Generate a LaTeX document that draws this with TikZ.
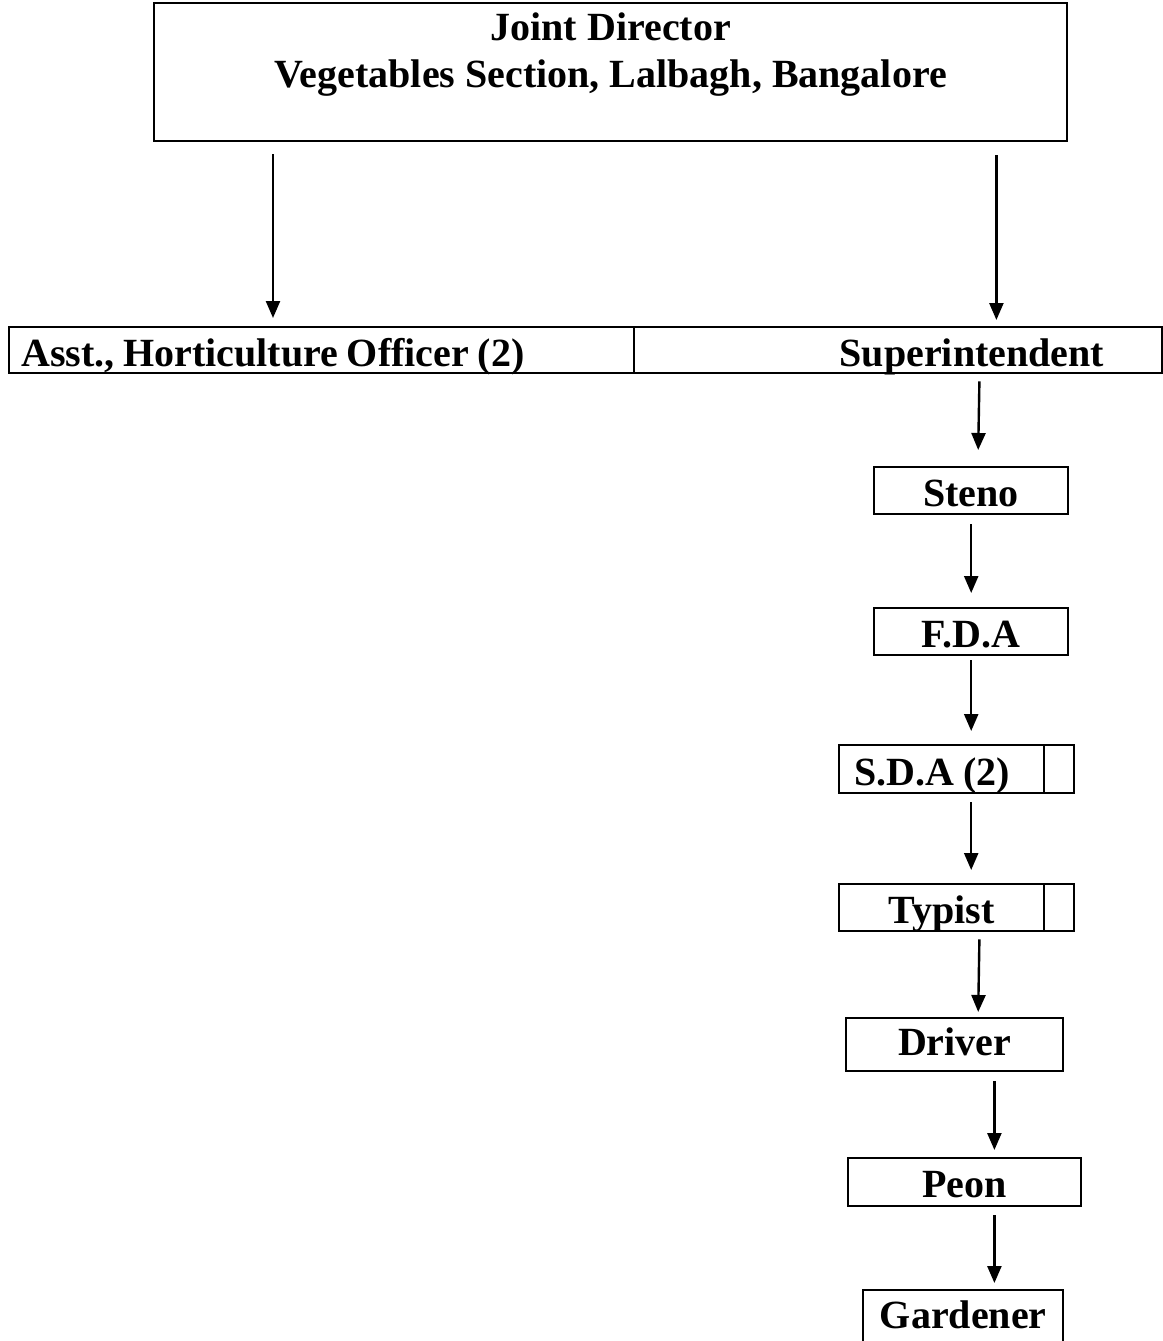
\documentclass[tikz,border=0pt]{standalone}
\usepackage{fontspec}
\setmainfont{Liberation Serif}
\usetikzlibrary{arrows.meta}
\begin{document}
\begin{tikzpicture}[x=1pt,y=-1pt,
  bx/.style={draw, line width=2.4pt, inner sep=0pt, anchor=north west,
    font=\bfseries\fontsize{40}{47}\selectfont},
  lbl/.style={inner sep=0pt, font=\bfseries\fontsize{40}{47}\selectfont},
  arr/.style={line width=2.4pt, -{Triangle[width=14pt,length=17pt]}}]
\useasboundingbox (0,0) rectangle (1162,1341);
% top box
\node[bx, minimum width=913pt, minimum height=138pt] (jd) at (153,2) {};
\node[lbl, align=center, anchor=north] (jdt) at ([yshift=-11pt]jd.north)
  {Joint Director\\Vegetables Section, Lalbagh, Bangalore};
% second row
\node[bx, minimum width=625pt, minimum height=46pt, text height=39pt, text depth=7pt,
  inner xsep=12pt, text width=601pt, align=left] (aho) at (8,326)
  {\spaceskip=0.22em Asst., Horticulture Officer (2)};
\node[bx, minimum width=528pt, minimum height=46pt, text height=39pt, text depth=7pt,
  inner xsep=58pt, text width=412pt, align=right] (sup) at (633,326)
  {Superintendent};
% chain
\node[bx, minimum width=194pt, minimum height=47pt, text height=39pt, text depth=8pt] (steno) at (873,466) {Steno};
\node[bx, minimum width=194pt, minimum height=47pt, text height=39pt, text depth=8pt] (fda) at (873,607) {F.D.A};
\node[bx, minimum width=205pt, minimum height=48pt, text height=40pt, text depth=8pt,
  inner xsep=15pt, text width=175pt, align=left] (sda) at (838,744) {\spaceskip=0.22em S.D.A (2)};
\node[bx, minimum width=30pt, minimum height=48pt] (sdaq) at (1043,744) {};
\node[bx, minimum width=205pt, minimum height=47pt, text height=39pt, text depth=8pt] (typ) at (838,883) {Typist};
\node[bx, minimum width=30pt, minimum height=47pt] (typq) at (1043,883) {};
\node[bx, minimum width=217pt, minimum height=53pt, text height=37pt, text depth=16pt] (drv) at (845,1017) {Driver};
\node[bx, minimum width=233pt, minimum height=48pt, text height=39pt, text depth=9pt] (peon) at (847,1157) {Peon};
\node[bx, minimum width=200pt, minimum height=56pt, text height=38pt, text depth=18pt] (gard) at (862,1289) {Gardener};
% arrows
\draw[arr] ([xshift=120pt,yshift=-12pt]jd.south west) -- ([xshift=265pt,yshift=8pt]aho.north west);
\draw[arr] ([xshift=-72pt,yshift=-13pt]jd.south east) -- ([xshift=-167pt,yshift=6pt]sup.north east);
\draw[arr] ([xshift=-184pt,yshift=-7pt]sup.south east) -- ([xshift=7pt,yshift=16pt]steno.north);
\draw[arr] ([yshift=-9pt]steno.south) -- ([yshift=14pt]fda.north);
\draw[arr] ([yshift=-4pt]fda.south) -- ([yshift=13pt]sda.north -| fda.north);
\draw[arr] ([yshift=-8pt]sda.south -| fda.south) -- ([yshift=13pt]typ.north -| fda.north);
\draw[arr] ([xshift=-96pt,yshift=-7pt]typq.south east) -- ([xshift=23.5pt,yshift=5pt]drv.north);
\draw[arr] ([xshift=-70pt,yshift=-9pt]drv.south east) -- ([xshift=-88pt,yshift=7pt]peon.north east);
\draw[arr] ([xshift=-88pt,yshift=-8pt]peon.south east) -- ([xshift=-70pt,yshift=6pt]gard.north east);
\end{tikzpicture}
\end{document}
